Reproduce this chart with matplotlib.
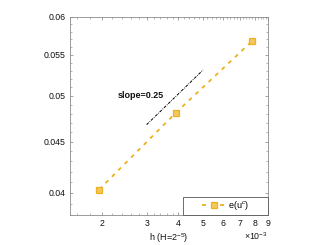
import matplotlib
matplotlib.use("Agg")
import matplotlib.pyplot as plt
from matplotlib.ticker import FixedLocator, FixedFormatter, NullFormatter
from matplotlib.patches import Rectangle

plt.rcParams['font.family'] = ['Liberation Sans', 'DejaVu Sans']
plt.rcParams['mathtext.fontset'] = 'custom'
plt.rcParams['mathtext.rm'] = 'Liberation Sans'
plt.rcParams['mathtext.it'] = 'Liberation Sans:italic'
plt.rcParams['mathtext.bf'] = 'Liberation Sans:bold'

# data
h = [1.953e-3, 3.906e-3, 7.8125e-3]
err = [0.0403, 0.0481, 0.0568]
slope_x = [3e-3, 5e-3]
slope_y = [0.0468, 0.0531]
x_ticks = [2e-3, 3e-3, 4e-3, 5e-3, 6e-3, 7e-3, 8e-3, 9e-3]
x_ticklabels = ['2', '3', '4', '5', '6', '7', '8', '9']
y_ticks = [0.04, 0.045, 0.05, 0.055, 0.06]
y_ticklabels = ['0.04', '0.045', '0.05', '0.055', '0.06']
x_minor = [v * 1e-4 for v in range(16, 92, 2)]
y_minor = [v * 1e-3 for v in range(38, 61)]
series_label = 'e(u$^c$)'
slope_label = 'slope=0.25'
xlabel = 'h (H=2$^{-5}$)'

orange = '#EDB120'
face = '#F4C75C'

fig = plt.figure(figsize=(3.27, 2.45), dpi=100)
ax = fig.add_axes([0.214, 0.1224, 0.606, 0.8086])
ax.set_xscale('log')
ax.set_yscale('log')

ax.plot(h, err, linestyle=(0, (2.2, 2.8)), color=orange, linewidth=1.3,
        marker='s', markersize=3.8, markerfacecolor=face,
        markeredgecolor=orange, markeredgewidth=0.9, label=series_label)
ax.plot(slope_x, slope_y, linestyle='-.', color='black', linewidth=0.7,
        dashes=(3, 1.2, 0.8, 1.2))

ax.text(2.3e-3, 0.0501, slope_label, fontsize=6.5, fontweight='bold',
        va='center', ha='left', color='#111111')

ax.set_xlim(1.5e-3, 9e-3)
ax.set_ylim(0.038, 0.06)

ax.xaxis.set_major_locator(FixedLocator(x_ticks))
ax.xaxis.set_major_formatter(FixedFormatter(x_ticklabels))
ax.xaxis.set_minor_locator(FixedLocator(x_minor))
ax.xaxis.set_minor_formatter(NullFormatter())
ax.yaxis.set_major_locator(FixedLocator(y_ticks))
ax.yaxis.set_major_formatter(FixedFormatter(y_ticklabels))
ax.yaxis.set_minor_locator(FixedLocator(y_minor))
ax.yaxis.set_minor_formatter(NullFormatter())

ax.tick_params(which='both', direction='in', top=True, right=True,
               colors='#808080', labelcolor='#111111', labelsize=6.3)
ax.tick_params(which='major', length=2.2, width=0.5, pad=3)
ax.tick_params(which='minor', length=1.2, width=0.4)
for s in ax.spines.values():
    s.set_color('#8a8a8a')
    s.set_linewidth(0.6)

ax.set_xlabel(xlabel, fontsize=6.5, color='#111111', labelpad=2)
ax.text(0.997, -0.105, r'$\times$10$^{-3}$', transform=ax.transAxes,
        ha='right', va='center', fontsize=6.3, color='#111111')

# legend box
bx0, bw, bh = 0.569, 0.431, 0.091
ax.add_patch(Rectangle((bx0, 0), bw, bh, transform=ax.transAxes,
                       facecolor='white', edgecolor='#555555',
                       linewidth=0.6, zorder=5, clip_on=False))
leg = ax.legend(loc='center', bbox_to_anchor=(bx0, 0, bw, bh),
                frameon=False, fontsize=6.5, handlelength=2.6,
                handletextpad=0.2, borderpad=0, borderaxespad=0)
leg.set_zorder(6)

fig.savefig('out.png', dpi=100)
